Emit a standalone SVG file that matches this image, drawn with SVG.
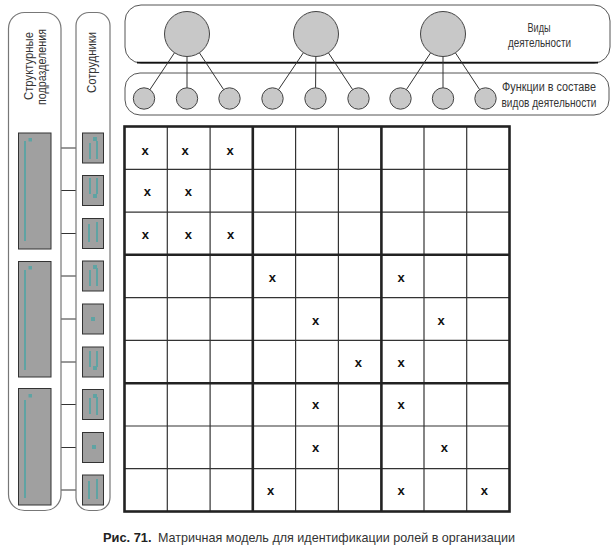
<svg xmlns="http://www.w3.org/2000/svg" width="616" height="550" viewBox="0 0 616 550">
<style>
.txt{font-family:"Liberation Sans",Arial,sans-serif;font-size:13.5px;fill:#333}
.pill{fill:#fff;stroke:#777;stroke-width:1.2}
.band{fill:#fff;stroke:#555;stroke-width:1}
.big{fill:#c8c8c8;stroke:#444;stroke-width:1}
.sm{fill:#c8c8c8;stroke:#444;stroke-width:1}
.gbox{fill:#a0a0a0;stroke:#333;stroke-width:1}
.teal{fill:#5fa3a3}
.link{stroke:#333;stroke-width:1;fill:none}
.thin{stroke:#333;stroke-width:1.2;fill:none}
.thick{stroke:#222;stroke-width:2.6;fill:none}
.x{font-family:"Liberation Sans",Arial,sans-serif;font-weight:bold;font-size:13px;fill:#111;text-anchor:middle}
</style>
<rect width="616" height="550" fill="#fff"/>

<g id="activities">
  <rect class="band" x="125" y="5" width="485" height="58" rx="16" ry="16"/>
  <line x1="137" y1="62.6" x2="598" y2="62.6" stroke="#111" stroke-width="1.6"/>
  <text class="txt" transform="translate(539,32) scale(0.8,1)" text-anchor="middle" textLength="28.75" lengthAdjust="spacingAndGlyphs">Виды</text>
  <text class="txt" transform="translate(539.5,47) scale(0.8,1)" text-anchor="middle" textLength="78.75" lengthAdjust="spacingAndGlyphs">деятельности</text>
</g>
<g id="functions">
  <rect class="band" x="125" y="73" width="484" height="42" rx="15" ry="15" stroke="#666"/>
  <text class="txt" transform="translate(549,91) scale(0.8,1)" text-anchor="middle" textLength="117.5" lengthAdjust="spacingAndGlyphs">Функции в составе</text>
  <text class="txt" transform="translate(549,106.5) scale(0.8,1)" text-anchor="middle" textLength="118.75" lengthAdjust="spacingAndGlyphs">видов деятельности</text>
</g>

<g id="connectors">
  <line class="link" x1="187" y1="34" x2="144" y2="98.5"/>
  <line class="link" x1="187" y1="34" x2="187" y2="98.5"/>
  <line class="link" x1="187" y1="34" x2="229.5" y2="98.5"/>
  <line class="link" x1="316" y1="34" x2="272.5" y2="98.5"/>
  <line class="link" x1="316" y1="34" x2="315.5" y2="98.5"/>
  <line class="link" x1="316" y1="34" x2="358.5" y2="98.5"/>
  <line class="link" x1="443" y1="34" x2="400.5" y2="98.5"/>
  <line class="link" x1="443" y1="34" x2="443" y2="98.5"/>
  <line class="link" x1="443" y1="34" x2="485.5" y2="98.5"/>
  <line class="link" x1="51" y1="148" x2="82.5" y2="148"/>
  <line class="link" x1="51" y1="190.5" x2="82.5" y2="190.5"/>
  <line class="link" x1="51" y1="233.5" x2="82.5" y2="233.5"/>
  <line class="link" x1="51" y1="276" x2="82.5" y2="276"/>
  <line class="link" x1="51" y1="319" x2="82.5" y2="319"/>
  <line class="link" x1="51" y1="362" x2="82.5" y2="362"/>
  <line class="link" x1="51" y1="404.5" x2="82.5" y2="404.5"/>
  <line class="link" x1="51" y1="447.5" x2="82.5" y2="447.5"/>
  <line class="link" x1="51" y1="490" x2="82.5" y2="490"/>
</g>

<g id="activity-nodes">
  <circle class="big" cx="187" cy="34" r="22.5"/>
  <circle class="big" cx="316" cy="34" r="22.5"/>
  <circle class="big" cx="443" cy="34" r="22.5"/>
</g>
<g id="function-nodes">
  <circle class="sm" cx="144" cy="98.5" r="10.7"/>
  <circle class="sm" cx="187" cy="98.5" r="10.7"/>
  <circle class="sm" cx="229.5" cy="98.5" r="10.7"/>
  <circle class="sm" cx="272.5" cy="98.5" r="10.7"/>
  <circle class="sm" cx="315.5" cy="98.5" r="10.7"/>
  <circle class="sm" cx="358.5" cy="98.5" r="10.7"/>
  <circle class="sm" cx="400.5" cy="98.5" r="10.7"/>
  <circle class="sm" cx="443" cy="98.5" r="10.7"/>
  <circle class="sm" cx="485.5" cy="98.5" r="10.7"/>
</g>

<g id="units-column">
  <rect class="pill" x="8.5" y="12.5" width="52.5" height="498" rx="16" ry="16"/>
  <text class="txt" transform="translate(32.5,66) rotate(-90)" text-anchor="middle" textLength="68" lengthAdjust="spacingAndGlyphs">Структурные</text>
  <text class="txt" transform="translate(45.5,67) rotate(-90)" text-anchor="middle" textLength="76" lengthAdjust="spacingAndGlyphs">подразделения</text>
</g>
<g id="staff-column">
  <rect class="pill" x="76" y="12.5" width="34" height="498" rx="13" ry="13"/>
  <text class="txt" transform="translate(96,62.5) rotate(-90)" text-anchor="middle" textLength="61" lengthAdjust="spacingAndGlyphs">Сотрудники</text>
</g>

<g id="unit-1">
  <rect class="gbox" x="18.5" y="133" width="32.5" height="116"/>
  <rect class="teal" x="24" y="141" width="2" height="100"/>
  <rect class="teal" x="28.5" y="138" width="3.5" height="3.5"/>
</g>
<g id="unit-2">
  <rect class="gbox" x="18.5" y="261.5" width="32.5" height="115.5"/>
  <rect class="teal" x="24" y="270" width="2" height="100"/>
  <rect class="teal" x="28.5" y="266" width="3.5" height="3.5"/>
</g>
<g id="unit-3">
  <rect class="gbox" x="18.5" y="388.5" width="32.5" height="116.5"/>
  <rect class="teal" x="24" y="400" width="2" height="98"/>
  <rect class="teal" x="28.5" y="394" width="3.5" height="3.5"/>
</g>

<g id="employee-1"><rect class="gbox" x="82.5" y="133" width="21" height="30"/><rect class="teal" x="89" y="143" width="2" height="16"/><rect class="teal" x="96" y="141" width="2" height="18"/><rect class="teal" x="93" y="137" width="4" height="4"/></g>
<g id="employee-2"><rect class="gbox" x="82.5" y="175.5" width="21" height="30"/><rect class="teal" x="89" y="178" width="2" height="16"/><rect class="teal" x="96" y="178" width="2" height="16"/><rect class="teal" x="93" y="194" width="4" height="4"/></g>
<g id="employee-3"><rect class="gbox" x="82.5" y="218.5" width="21" height="30"/><rect class="teal" x="88" y="224" width="2" height="18"/><rect class="teal" x="96" y="222" width="2" height="20"/></g>
<g id="employee-4"><rect class="gbox" x="82.5" y="261" width="21" height="30"/><rect class="teal" x="89" y="270" width="2" height="16"/><rect class="teal" x="96" y="268" width="2" height="18"/><rect class="teal" x="93" y="265" width="4" height="4"/></g>
<g id="employee-5"><rect class="gbox" x="82.5" y="304" width="21" height="30"/><rect class="teal" x="91" y="317" width="4" height="4"/></g>
<g id="employee-6"><rect class="gbox" x="82.5" y="347" width="21" height="30"/><rect class="teal" x="89" y="351" width="2" height="16"/><rect class="teal" x="96" y="351" width="2" height="16"/><rect class="teal" x="93" y="366" width="4" height="4"/></g>
<g id="employee-7"><rect class="gbox" x="82.5" y="389.5" width="21" height="30"/><rect class="teal" x="89" y="398" width="2" height="16"/><rect class="teal" x="96" y="397" width="2" height="18"/><rect class="teal" x="93" y="394" width="4" height="4"/></g>
<g id="employee-8"><rect class="gbox" x="82.5" y="432.5" width="21" height="30"/><rect class="teal" x="92" y="445" width="4" height="4"/></g>
<g id="employee-9"><rect class="gbox" x="82.5" y="475" width="21" height="30"/><rect class="teal" x="88" y="481" width="2" height="18"/><rect class="teal" x="96" y="479" width="2" height="20"/></g>

<g id="matrix">
  <g class="thin">
    <line x1="167.3" y1="126.5" x2="167.3" y2="511.5"/>
    <line x1="210.1" y1="126.5" x2="210.1" y2="511.5"/>
    <line x1="295.6" y1="126.5" x2="295.6" y2="511.5"/>
    <line x1="338.4" y1="126.5" x2="338.4" y2="511.5"/>
    <line x1="424" y1="126.5" x2="424" y2="511.5"/>
    <line x1="466.7" y1="126.5" x2="466.7" y2="511.5"/>
    <line x1="124.5" y1="169.3" x2="509.5" y2="169.3"/>
    <line x1="124.5" y1="212.1" x2="509.5" y2="212.1"/>
    <line x1="124.5" y1="297.6" x2="509.5" y2="297.6"/>
    <line x1="124.5" y1="340.4" x2="509.5" y2="340.4"/>
    <line x1="124.5" y1="426" x2="509.5" y2="426"/>
    <line x1="124.5" y1="468.7" x2="509.5" y2="468.7"/>
  </g>
  <g class="thick">
    <line x1="252.8" y1="126.5" x2="252.8" y2="511.5"/>
    <line x1="381.4" y1="126.5" x2="381.4" y2="511.5"/>
    <line x1="124.5" y1="254.8" x2="509.5" y2="254.8"/>
    <line x1="124.5" y1="383.2" x2="509.5" y2="383.2"/>
    <rect x="124.5" y="126.5" width="385" height="385"/>
  </g>
  <g id="marks">
    <text class="x" x="145" y="154.5">x</text>
    <text class="x" x="185" y="154.5">x</text>
    <text class="x" x="230" y="154.5">x</text>
    <text class="x" x="147.3" y="195.5">x</text>
    <text class="x" x="188.3" y="195.5">x</text>
    <text class="x" x="145.3" y="238.8">x</text>
    <text class="x" x="188.3" y="238.8">x</text>
    <text class="x" x="230.7" y="238.8">x</text>
    <text class="x" x="272.3" y="281.5">x</text>
    <text class="x" x="401" y="281.5">x</text>
    <text class="x" x="315.7" y="324.5">x</text>
    <text class="x" x="441" y="324.5">x</text>
    <text class="x" x="358.3" y="367">x</text>
    <text class="x" x="401" y="367">x</text>
    <text class="x" x="315.7" y="409">x</text>
    <text class="x" x="401" y="409">x</text>
    <text class="x" x="315.7" y="452">x</text>
    <text class="x" x="444.3" y="452">x</text>
    <text class="x" x="270.5" y="494.5">x</text>
    <text class="x" x="401" y="494.5">x</text>
    <text class="x" x="484.3" y="494.5">x</text>
  </g>
</g>

<g id="caption">
  <text class="txt" x="103" y="542" font-weight="bold" textLength="48.5" lengthAdjust="spacingAndGlyphs" style="fill:#222;font-size:13.5px">Рис. 71.</text>
  <text class="txt" x="158" y="542" textLength="357" lengthAdjust="spacingAndGlyphs" style="font-size:13.5px">Матричная модель для идентификации ролей в организации</text>
</g>
</svg>
